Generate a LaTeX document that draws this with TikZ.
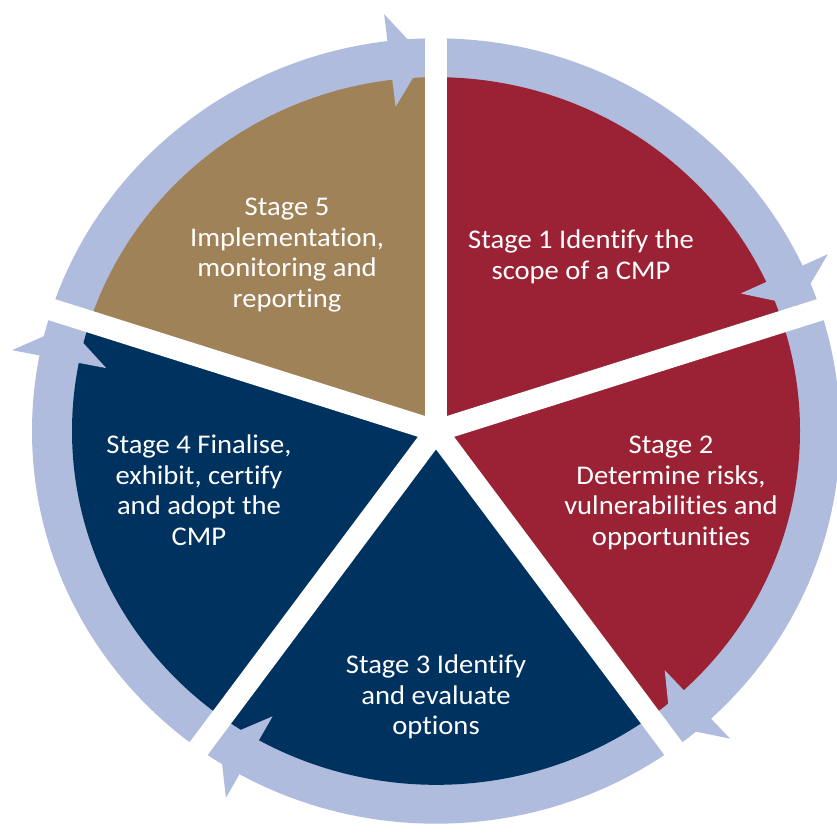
\documentclass[tikz,border=0pt]{standalone}
\usepackage{fontspec}
\setmainfont{Carlito}[FakeStretch=1.06, Ligatures={NoCommon}]
\definecolor{ringblue}{RGB}{175,188,221}
\definecolor{stagered}{RGB}{155,34,53}
\definecolor{stagetan}{RGB}{160,130,89}
\definecolor{stagenavy}{RGB}{0,50,96}
\tikzset{
  label/.style={text=white, align=center, inner sep=0pt, anchor=north,
    font=\fontsize{27}{30.5}\selectfont},
  gapline/.style={white, line width=22pt},
  headshape/.style={fill=ringblue}
}
\begin{document}
\begin{tikzpicture}[x=1pt,y=1pt]
\clip (0,0) rectangle (837,832);
\begin{scope}[shift={(436,401)}, yscale=0.972]
  % outer ring
  \fill[ringblue] (0,0) circle (404);
  % sectors
  \fill[stagered] (0,0) -- (90:364) arc (90:-54:364) -- cycle;
  \fill[stagenavy] (0,0) -- (-54:364) arc (-54:-198:364) -- cycle;
  \fill[stagetan] (0,0) -- (162:364) arc (162:90:364) -- cycle;
  % white gaps
  \foreach \a in {90,18,-54,-126,162}
    \draw[gapline] (0,0) -- (\a:470);
  % arrow heads
  \foreach \a in {90,18,-54,-126,162}
    \fill[headshape] (\a+1.64:384) -- (\a+6.9:336) -- (\a+6.9:432) -- cycle;
\end{scope}
\node[label] (s5) at (287,634) {Stage 5\\Implementation,\\monitoring and\\reporting};
\node[label] (s1) at (581,602) {Stage 1 Identify the\\scope of a CMP};
\node[label] (s2) at (671,396) {Stage 2\\Determine risks,\\vulnerabilities and\\opportunities};
\node[label] (s3) at (436,177) {Stage 3 Identify\\and evaluate\\options};
\node[label] (s4) at (199,397) {Stage 4 Finalise,\\exhibit, certify\\and adopt the\\CMP};
\end{tikzpicture}
\end{document}
